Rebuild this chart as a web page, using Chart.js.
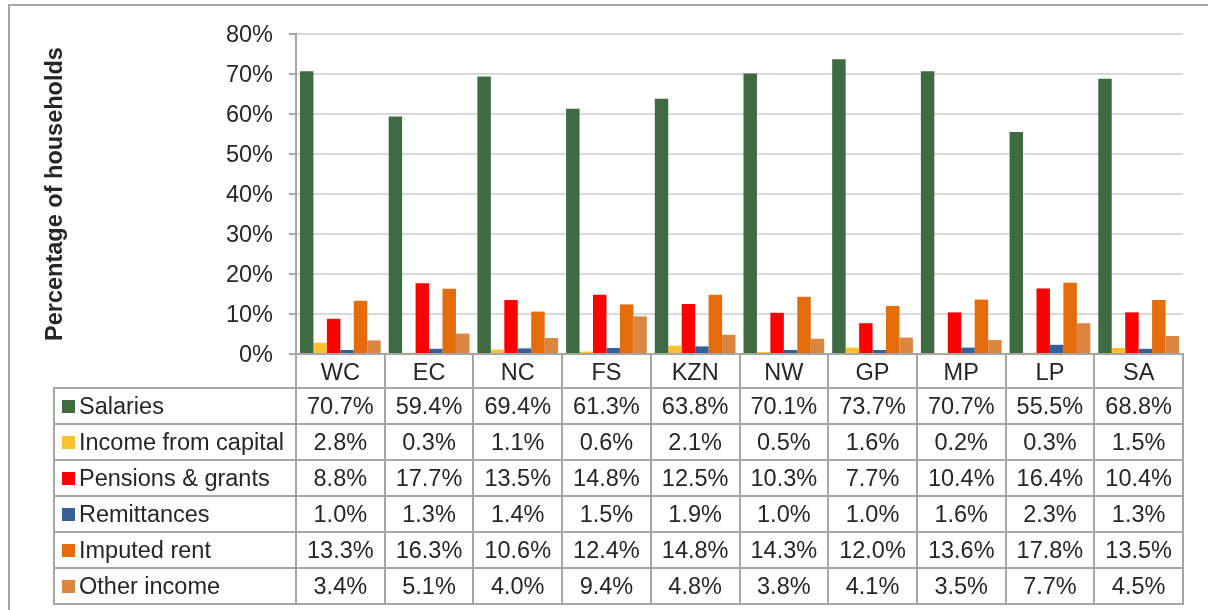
<!DOCTYPE html>
<html>
<head>
<meta charset="utf-8">
<script src="https://cdn.jsdelivr.net/npm/chart.js@4"></script>
<style>
  html, body { margin: 0; padding: 0; background: #fff; }
  #wrap { position: relative; width: 1208px; height: 610px; overflow: hidden; font-family: "Liberation Sans", Arial, sans-serif; color: #262626; }
  #frame { position: absolute; left: 8px; top: 4px; width: 1400px; height: 800px; border-top: 2px solid #a6a6a6; border-left: 2px solid #a6a6a6; }
  canvas { position: absolute; left: 0; top: 0; }
  .ln { position: absolute; background: #a6a6a6; }
  .cell { position: absolute; text-align: center; font-size: 23.5px; white-space: nowrap; }
  .lab { position: absolute; font-size: 23.5px; white-space: nowrap; }
  .key { position: absolute; width: 13px; height: 13px; }
</style>
</head>
<body>
<div id="wrap">
  <div id="frame"></div>
  <canvas id="chart" width="1208" height="610"></canvas>
  <div id="table"></div>
</div>
<script>
const categories = ['WC', 'EC', 'NC', 'FS', 'KZN', 'NW', 'GP', 'MP', 'LP', 'SA']

const salaries          = [70.7, 59.4, 69.4, 61.3, 63.8, 70.1, 73.7, 70.7, 55.5, 68.8]
const incomeFromCapital = [2.8, 0.3, 1.1, 0.6, 2.1, 0.5, 1.6, 0.2, 0.3, 1.5]
const pensionsGrants    = [8.8, 17.7, 13.5, 14.8, 12.5, 10.3, 7.7, 10.4, 16.4, 10.4]
const remittances       = [1.0, 1.3, 1.4, 1.5, 1.9, 1.0, 1.0, 1.6, 2.3, 1.3]
const imputedRent       = [13.3, 16.3, 10.6, 12.4, 14.8, 14.3, 12.0, 13.6, 17.8, 13.5]
const otherIncome       = [3.4, 5.1, 4.0, 9.4, 4.8, 3.8, 4.1, 3.5, 7.7, 4.5]

const yTicks = [0, 10, 20, 30, 40, 50, 60, 70, 80]

const series = [
  { name: 'Salaries', data: salaries, color: '#3e6b42' },
  { name: 'Income from capital', data: incomeFromCapital, color: '#ffc12e' },
  { name: 'Pensions & grants', data: pensionsGrants, color: '#ff0000' },
  { name: 'Remittances', data: remittances, color: '#37609a' },
  { name: 'Imputed rent', data: imputedRent, color: '#e46c0a' },
  { name: 'Other income', data: otherIncome, color: '#dc8540' }
]

const FONT = '"Liberation Sans", Arial, sans-serif'

const chart = new Chart(document.getElementById('chart').getContext('2d'), {
  type: 'bar',
  data: {
    labels: categories,
    datasets: series.map(s => ({
      label: s.name,
      data: s.data,
      backgroundColor: s.color,
      borderWidth: 0
    }))
  },
  options: {
    responsive: false,
    animation: false,
    layout: { padding: { left: 9, top: 34, right: 25, bottom: 256 } },
    datasets: { bar: { categoryPercentage: 0.91, barPercentage: 1 } },
    plugins: { legend: { display: false }, tooltip: { enabled: false } },
    scales: {
      x: {
        ticks: { display: false },
        grid: { display: false },
        border: { color: '#a6a6a6', width: 2 },
        afterFit(s) { s.height = 0 }
      },
      y: {
        min: 0,
        max: 80,
        afterBuildTicks(s) { s.ticks = yTicks.map(v => ({ value: v })) },
        ticks: {
          callback: v => v + '%',
          color: '#262626',
          font: { family: FONT, size: 23.5 },
          padding: 16,
          labelOffset: 2
        },
        grid: { color: '#d9d9d9', lineWidth: 2, tickLength: 7, tickColor: '#a6a6a6', tickWidth: 2 },
        border: { color: '#a6a6a6', width: 2 },
        title: {
          display: true,
          text: 'Percentage of households',
          color: '#262626',
          font: { family: FONT, size: 23.5, weight: 'bold' },
          padding: { top: 32, bottom: 0 }
        },
        afterFit(s) { s.width = 287 }
      }
    }
  }
})

// data table under the plot, lined up with the category scale
function buildTable(chart) {
  const box = document.getElementById('table')
  const area = chart.chartArea
  const step = (area.right - area.left) / categories.length
  const headTop = area.bottom
  const headH = 34
  const rowTop = headTop + headH
  const rowH = 36
  const tableLeft = 54
  const tableBottom = rowTop + rowH * series.length

  const line = (x, y, w, h) => {
    const d = document.createElement('div')
    d.className = 'ln'
    d.style.cssText = `left:${x}px;top:${y}px;width:${w}px;height:${h}px`
    box.appendChild(d)
  }

  // verticals
  for (let i = 0; i <= categories.length; i++) {
    const x = Math.round(area.left + step * i)
    line(x - 1, headTop, 2, tableBottom - headTop + 1)
  }
  line(tableLeft - 1, rowTop, 2, tableBottom - rowTop + 1)
  // horizontals
  for (let r = 0; r <= series.length; r++) {
    line(tableLeft - 1, rowTop + rowH * r - 1, Math.round(area.right) - tableLeft + 2, 2)
  }

  // header labels
  categories.forEach((c, i) => {
    const d = document.createElement('div')
    d.className = 'cell'
    d.textContent = c
    d.style.cssText = `left:${area.left + step * i}px;top:${headTop}px;width:${step}px;height:${headH}px;line-height:${headH + 2}px`
    box.appendChild(d)
  })

  series.forEach((s, r) => {
    const top = rowTop + rowH * r
    const key = document.createElement('div')
    key.className = 'key'
    key.style.cssText = `left:62px;top:${top + 12}px;background:${s.color}`
    box.appendChild(key)

    const lab = document.createElement('div')
    lab.className = 'lab'
    lab.textContent = s.name
    lab.style.cssText = `left:79px;top:${top}px;height:${rowH}px;line-height:${rowH}px`
    box.appendChild(lab)

    s.data.forEach((v, i) => {
      const d = document.createElement('div')
      d.className = 'cell'
      d.textContent = v.toFixed(1) + '%'
      d.style.cssText = `left:${area.left + step * i}px;top:${top}px;width:${step}px;height:${rowH}px;line-height:${rowH}px`
      box.appendChild(d)
    })
  })
}

buildTable(chart)
</script>
</body>
</html>
